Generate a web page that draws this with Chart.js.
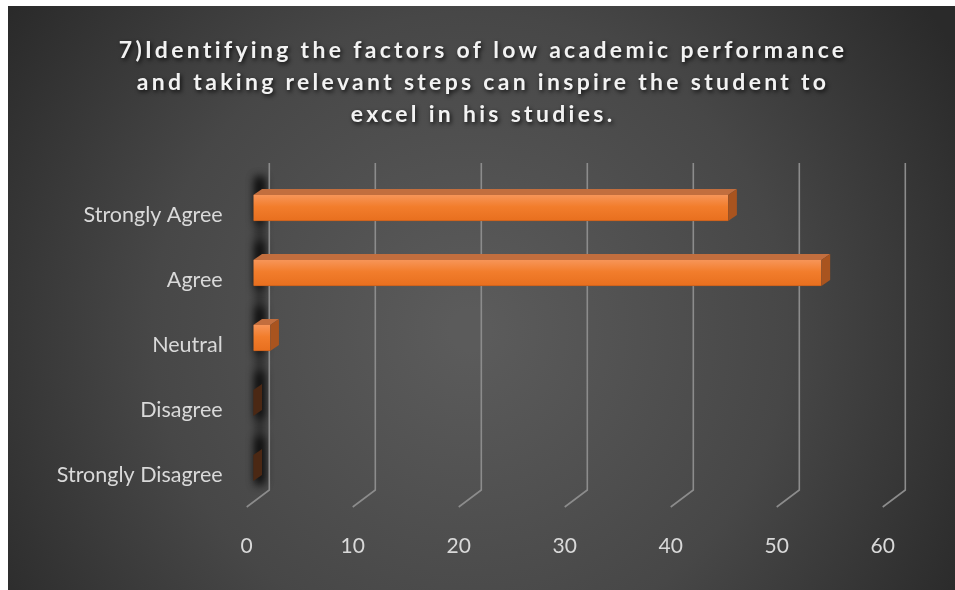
<!DOCTYPE html>
<html>
<head>
<meta charset="utf-8">
<script src="https://cdn.jsdelivr.net/npm/chart.js@4.4.1/dist/chart.umd.min.js"></script>
<style>
    html, body { margin: 0; padding: 0; background: #2a2a2a; overflow: hidden; }
    canvas { display: block; }
</style>
</head>
<body>
<canvas id="surveyChart" width="955" height="590"></canvas>
<script>
// Survey question 7 - share of responses (%)
const titleLines = [
    '7)Identifying the factors of low academic performance',
    'and taking relevant steps can inspire the student to',
    'excel in his studies.'
];
const categories = ['Strongly Agree', 'Agree', 'Neutral', 'Disagree', 'Strongly Disagree'];
const responses = [44.8, 53.6, 1.6, 0, 0];
const xTicks = [0, 10, 20, 30, 40, 50, 60];

const FONT = 'Lato, "Open Sans", sans-serif';
const DEPTH_X = 8.7;
const DEPTH_Y = 6;

// dark radial backdrop with the white strip at top/left
const backdrop = {
    id: 'backdrop',
    beforeDraw(chart) {
        const ctx = chart.ctx;
        ctx.save();
        ctx.fillStyle = '#ffffff';
        ctx.fillRect(0, 0, chart.width, chart.height);
        const g = ctx.createRadialGradient(470, 330, 20, 470, 330, 560);
        g.addColorStop(0, '#5b5b5b');
        g.addColorStop(0.55, '#474747');
        g.addColorStop(1, '#2a2a2a');
        ctx.fillStyle = g;
        ctx.fillRect(8, 6, chart.width - 8, chart.height - 6);
        ctx.restore();
    }
};

// title with letter spacing and soft shadow
const spacedTitle = {
    id: 'spacedTitle',
    afterDraw(chart) {
        const ctx = chart.ctx;
        ctx.save();
        ctx.font = 'bold 23px ' + FONT;
        ctx.letterSpacing = '3.3px';
        ctx.textAlign = 'center';
        ctx.textBaseline = 'middle';
        ctx.fillStyle = '#f2f2f2';
        ctx.shadowColor = 'rgba(0,0,0,0.8)';
        ctx.shadowBlur = 4;
        ctx.shadowOffsetX = 1.5;
        ctx.shadowOffsetY = 2;
        const cx = (8 + chart.width) / 2 + 1.6;
        titleLines.forEach((line, i) => {
            ctx.fillText(line, cx, 51 + i * 32);
        });
        ctx.restore();
    }
};

// back-wall gridlines with their slanted floor feet
const wallGrid = {
    id: 'wallGrid',
    beforeDatasetsDraw(chart) {
        const ctx = chart.ctx;
        const xs = chart.scales.x;
        const area = chart.chartArea;
        const top = area.top - 12.5;
        const floor = area.bottom - 10.5;
        const x0 = xs.getPixelForValue(0);

        // blurred shadow of the bars on the wall
        ctx.save();
        ctx.filter = 'blur(4px)';
        ctx.fillStyle = 'rgba(0,0,0,0.45)';
        ctx.fillRect(x0 + 2, top + 14, 9, floor - top - 18);
        const meta = chart.getDatasetMeta(0);
        ctx.fillStyle = 'rgba(0,0,0,0.8)';
        meta.data.forEach(bar => {
            const p = bar.getProps(['y', 'height'], true);
            ctx.fillRect(x0 + 2, p.y - p.height / 2 - 18, 9, p.height + 20);
        });
        ctx.restore();

        ctx.save();
        ctx.strokeStyle = '#8c8c8c';
        ctx.lineWidth = 1.6;
        xTicks.forEach(v => {
            const xb = xs.getPixelForValue(v) + 16;
            ctx.beginPath();
            ctx.moveTo(xb, top);
            ctx.lineTo(xb, floor);
            ctx.lineTo(xb - 22.6, floor + 17);
            ctx.stroke();
        });
        ctx.restore();
    }
};

// top and end faces so the bars read as 3D blocks
const barFaces = {
    id: 'barFaces',
    afterDatasetsDraw(chart) {
        const ctx = chart.ctx;
        const meta = chart.getDatasetMeta(0);
        ctx.save();
        meta.data.forEach((bar, i) => {
            const p = bar.getProps(['x', 'y', 'base', 'height'], true);
            const yTop = p.y - p.height / 2;
            const yBot = p.y + p.height / 2;
            const x0 = p.base;
            const x1 = p.x;
            if (responses[i] > 0) {
                ctx.fillStyle = '#c26e3e';
                ctx.beginPath();
                ctx.moveTo(x0, yTop);
                ctx.lineTo(x0 + DEPTH_X, yTop - DEPTH_Y);
                ctx.lineTo(x1 + DEPTH_X, yTop - DEPTH_Y);
                ctx.lineTo(x1, yTop);
                ctx.closePath();
                ctx.fill();
            }
            ctx.fillStyle = responses[i] > 0 ? '#a9541f' : '#4b2814';
            ctx.beginPath();
            ctx.moveTo(x1, yTop);
            ctx.lineTo(x1 + DEPTH_X, yTop - DEPTH_Y);
            ctx.lineTo(x1 + DEPTH_X, yBot - DEPTH_Y);
            ctx.lineTo(x1, yBot);
            ctx.closePath();
            ctx.fill();
        });
        ctx.restore();
    }
};

function frontFace(context) {
    const chart = context.chart;
    const ys = chart.scales && chart.scales.y;
    if (!ys || context.dataIndex === undefined) return '#f07a28';
    const cy = ys.getPixelForValue(context.dataIndex);
    if (!isFinite(cy)) return '#f07a28';
    const g = chart.ctx.createLinearGradient(0, cy - 13, 0, cy + 13);
    g.addColorStop(0, '#f79558');
    g.addColorStop(0.45, '#f27d2c');
    g.addColorStop(1, '#e86f1e');
    return g;
}

const chart = new Chart(document.getElementById('surveyChart'), {
    type: 'bar',
    data: {
        labels: categories,
        datasets: [{
            label: 'Responses',
            data: responses,
            backgroundColor: frontFace,
            borderColor: '#c85f1c',
            borderWidth: { bottom: 1, top: 0, left: 0, right: 0 },
            borderSkipped: false,
            barThickness: 26
        }]
    },
    options: {
        indexAxis: 'y',
        responsive: false,
        animation: false,
        devicePixelRatio: 1,
        layout: {
            padding: { top: 175.5, right: 65.7, bottom: 0, left: 0 }
        },
        plugins: {
            legend: { display: false },
            title: { display: false },
            tooltip: { enabled: false }
        },
        scales: {
            x: {
                min: 0,
                max: 60,
                afterBuildTicks(scale) {
                    scale.ticks = xTicks.map(v => ({ value: v }));
                },
                afterFit(scale) {
                    scale.height = 89.5;
                },
                grid: { display: false, drawTicks: false },
                border: { display: false },
                ticks: {
                    color: '#d9d9d9',
                    font: { family: FONT, size: 21 },
                    padding: 33,
                    labelOffset: -6.6
                }
            },
            y: {
                afterFit(scale) {
                    scale.width = 253.3;
                },
                grid: { display: false, drawTicks: false },
                border: { display: false },
                ticks: {
                    color: '#d9d9d9',
                    font: { family: FONT, size: 21.5 },
                    padding: 30.6,
                    labelOffset: 7
                }
            }
        }
    },
    plugins: [backdrop, wallGrid, barFaces, spacedTitle]
});
</script>
</body>
</html>
